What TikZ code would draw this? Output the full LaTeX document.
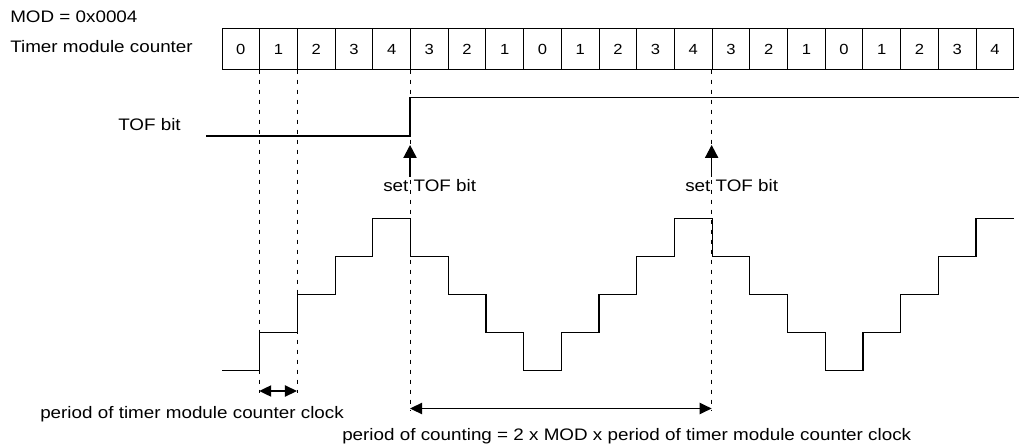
\documentclass[tikz,border=0pt]{standalone}
\usepackage{fontspec}
\setmainfont[FakeStretch=1.13]{Liberation Sans}
\usetikzlibrary{arrows.meta}
\begin{document}
\begin{tikzpicture}[x=0.75pt,y=-0.75pt,
  lbl/.style={inner sep=0pt,anchor=base west,font=\fontsize{12.5pt}{15pt}\selectfont},
  cell/.style={draw,line width=0.7pt,minimum width=28.275pt,minimum height=30.2pt,inner sep=0pt,
    font=\fontsize{11pt}{13pt}\selectfont},
  sig/.style={line width=0.9pt},
  guide/.style={line width=0.6pt,dash pattern=on 3.5pt off 4pt},
  uparrow/.style={line width=0.9pt,-{Triangle[length=9.75pt,width=10pt]}},
  dblarrow/.style={line width=0.9pt,{Triangle[length=9pt,width=8.5pt]}-{Triangle[length=9pt,width=8.5pt]}},
]
\useasboundingbox (0,0) rectangle (1019,445);

% labels
\node[lbl] (mod) at (10,23) {MOD = 0x0004};
\node[lbl] (tmc) at (10,52.3) {Timer module counter};
\node[lbl] (tof) at (118,131) {TOF bit};

% counter cells
\foreach \d [count=\k from 0] in {0,1,2,3,4,3,2,1,0,1,2,3,4,3,2,1,0,1,2,3,4}
  \node[cell] (c\k) at ({222+37.7*\k+18.85},49) {\d};

% helper y levels
\coordinate (yg1) at (0,393);
\coordinate (yg2) at (0,411);
\coordinate (yd1) at (0,391);
\coordinate (yd2) at (0,408.5);
\coordinate (yat) at (0,145);
\coordinate (yab) at (0,177);

% dashed guides
\draw[guide] (c1.south west) -- (c1.south west |- yg1);
\draw[guide] (c2.south west) -- (c2.south west |- yg1);
\draw[guide] (c5.south west) -- (c5.south west |- yg2);
\draw[guide] (c13.south west) -- (c13.south west |- yg2);

% TOF bit signal
\coordinate (tofstart) at (206,136);
\coordinate (tofend) at (1019,97.7);
\draw[sig] (tofstart) -- (tofstart -| c5.south west) -- (tofend -| c5.south west) -- (tofend);

% set TOF bit arrows
\draw[uparrow] (c5.south west |- yab) -- (c5.south west |- yat);
\draw[uparrow] (c13.south west |- yab) -- (c13.south west |- yat);
\node[lbl] (set1) at (383,192) {set TOF bit};
\node[lbl] (set2) at (685,192) {set TOF bit};

% counter staircase
\draw[sig] (222,370.5)
  foreach \v [count=\k from 1] in {1,2,3,4,3,2,1,0,1,2,3,4,3,2,1,0,1,2,3,4} {
    -| ({222+37.7*\k},{370.5-38*\v})
  } -- (1013.7,{370.5-38*4});

% period arrows
\draw[dblarrow] (c1.south west |- yd1) -- (c2.south west |- yd1);
\draw[dblarrow] (c5.south west |- yd2) -- (c13.south west |- yd2);
\node[lbl] (p1) at (40,418) {period of timer module counter clock};
\node[lbl] (p2) at (342,440) {period of counting = 2 x MOD x period of timer module counter clock};
\end{tikzpicture}
\end{document}
